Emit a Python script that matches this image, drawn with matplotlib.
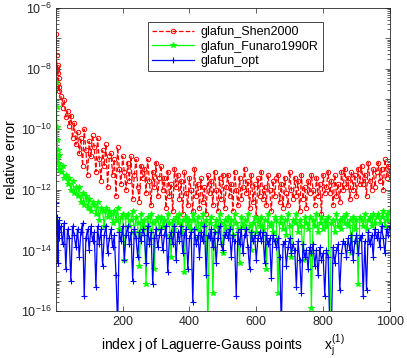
import numpy as np
import matplotlib
matplotlib.use("Agg")
import matplotlib.pyplot as plt
from matplotlib.ticker import FixedLocator, NullFormatter

plt.rcParams["font.family"] = ["Liberation Sans", "DejaVu Sans"]
plt.rcParams["mathtext.fontset"] = "custom"
plt.rcParams["mathtext.rm"] = "Liberation Sans"

# index j of the sampled points (first ten, then every fifth)
idx = list(range(1, 11)) + list(range(15, 1001, 5))

# log10 of relative error
shen_log = [
    -6.85, -7.55, -7.95, -8.05, -7.9, -8.15, -8.5, -8.3, -8.75, -8.6,
    -8.9, -9.3, -9.05, -9.6, -9.4, -9.9, -9.55, -10.3, -9.8, -10.5,
    -10.1, -10.8, -10.3, -11.2, -10.0, -10.7, -11.5, -10.4, -10.9, -10.2,
    -10.6, -11.4, -10.3, -11.0, -11.7, -10.7, -11.2, -10.5, -11.9, -10.9,
    -10.8, -11.5, -11.0, -12.2, -10.6, -11.3, -11.8, -10.9, -11.4, -12.0,
    -11.1, -11.7, -10.9, -12.3, -11.5, -11.0, -11.9, -12.4, -11.2, -11.6,
    -11.3, -12.1, -11.0, -11.7, -12.5, -11.4, -11.9, -11.1, -12.2, -11.6,
    -11.2, -12.0, -11.6, -12.6, -11.4, -12.2, -11.8, -12.7, -11.3, -11.9,
    -11.5, -12.3, -11.7, -12.8, -11.4, -12.1, -12.5, -11.6, -12.0, -12.7,
    -11.3, -12.2, -11.8, -12.6, -11.6, -12.4, -11.9, -12.8, -11.5, -12.1,
    -11.7, -12.5, -11.4, -12.0, -12.7, -11.6, -12.3, -11.5, -12.6, -11.9,
    -11.5, -12.2, -11.8, -12.7, -11.4, -12.0, -12.5, -11.6, -12.3, -11.9,
    -11.3, -12.1, -11.7, -12.6, -11.5, -12.4, -11.8, -12.9, -11.6, -12.2,
    -11.4, -12.3, -11.9, -12.5, -11.5, -12.0, -12.7, -11.7, -12.2, -11.6,
    -11.5, -12.4, -11.8, -12.6, -11.6, -12.1, -12.5, -11.4, -12.0, -12.3,
    -11.6, -12.2, -11.7, -12.7, -11.5, -12.3, -11.9, -12.6, -11.7, -12.1,
    -11.5, -12.0, -12.5, -11.6, -12.2, -11.8, -12.8, -11.5, -12.1, -11.9,
    -11.4, -12.1, -11.7, -12.5, -11.5, -12.2, -11.8, -12.4, -11.4, -12.0,
    -11.3, -11.9, -11.6, -12.3, -11.4, -12.0, -11.5, -12.2, -11.3, -11.8,
    -11.2, -11.8, -11.5, -12.2, -11.1, -11.7, -12.0, -11.3, -11.9, -11.4,
    -11.1, -11.7, -11.3, -12.0, -11.0, -11.6, -11.2, -11.5,
]

funaro_log = [
    -8.45, -9.27, -9.93, -10.36, -10.7, -10.9, -11.1, -10.85, -11.3, -11.15,
    -11.4, -11.2, -11.6, -11.5, -11.8, -11.6, -12.0, -11.7, -12.1, -11.9,
    -12.2, -11.9, -12.4, -12.1, -12.5, -12.2, -12.6, -12.3, -12.7, -12.4,
    -12.5, -12.8, -12.4, -13.0, -12.6, -12.7, -13.2, -12.6, -12.9, -12.7,
    -12.8, -13.1, -12.7, -13.0, -12.6, -13.3, -12.9, -12.8, -14.3, -12.9,
    -12.8, -13.2, -13.0, -12.7, -13.4, -12.9, -13.1, -14.5, -12.8, -13.2,
    -13.0, -15.1, -12.9, -13.3, -12.8, -13.1, -14.6, -13.0, -12.9, -13.3,
    -12.9, -13.2, -13.0, -13.5, -12.8, -13.1, -14.2, -13.0, -13.3, -12.9,
    -13.1, -12.8, -13.4, -13.0, -14.7, -12.9, -13.2, -13.0, -13.3, -12.8,
    -13.0, -13.3, -12.9, -13.6, -13.1, -12.8, -13.2, -13.0, -16.5, -13.1,
    -12.9, -15.4, -13.2, -13.0, -13.4, -12.8, -13.1, -14.1, -13.0, -13.3,
    -12.9, -13.2, -13.0, -13.5, -12.8, -13.1, -13.3, -14.4, -12.9, -13.2,
    -13.0, -13.3, -12.8, -13.2, -14.0, -13.1, -12.9, -13.4, -13.0, -13.2,
    -12.9, -13.3, -13.0, -14.6, -12.8, -13.2, -13.1, -13.4, -12.9, -13.0,
    -15.4, -13.1, -12.9, -13.3, -13.0, -13.5, -12.8, -13.2, -14.2, -13.0,
    -13.1, -12.8, -13.4, -13.0, -13.2, -14.3, -12.9, -13.1, -13.3, -12.9,
    -15.9, -13.0, -13.2, -12.8, -13.4, -13.1, -12.9, -13.3, -13.0, -13.2,
    -12.9, -16.5, -13.1, -13.0, -13.4, -12.8, -13.2, -13.0, -13.3, -12.9,
    -13.1, -12.8, -13.2, -13.0, -14.1, -12.9, -13.3, -13.0, -15.1, -12.9,
    -13.0, -13.2, -12.8, -13.3, -13.0, -12.9, -13.2, -12.8, -13.1, -12.9,
    -12.8, -13.1, -12.9, -12.7, -13.2, -12.8, -13.0, -12.7,
]

opt_log = [
    -12.44, -13.1, -13.5, -12.9, -13.3, -14.4, -13.2, -13.6, -13.0, -13.4,
    -13.2, -13.8, -13.1, -14.6, -13.3, -13.6, -15.0, -13.2, -13.5, -13.9,
    -13.3, -14.2, -13.4, -13.1, -15.5, -13.6, -13.3, -14.0, -13.2, -13.7,
    -13.4, -15.2, -13.2, -13.8, -13.3, -14.5, -13.5, -13.2, -14.1, -13.6,
    -13.3, -13.9, -13.5, -14.8, -16.5, -13.4, -13.7, -13.2, -14.3, -13.5,
    -13.2, -13.8, -13.4, -15.0, -13.3, -13.6, -14.2, -13.4, -13.7, -13.3,
    -13.5, -14.4, -13.2, -13.8, -13.4, -15.1, -13.6, -13.3, -13.9, -13.5,
    -13.3, -14.0, -13.5, -13.2, -14.7, -13.6, -13.4, -13.8, -13.2, -14.3,
    -13.4, -13.7, -13.2, -14.1, -13.5, -13.3, -14.6, -13.6, -13.4, -15.7,
    -13.3, -13.8, -13.5, -14.2, -13.4, -13.7, -13.2, -14.8, -13.5, -13.6,
    -13.3, -13.9, -13.4, -14.4, -13.6, -13.2, -13.8, -14.0, -13.5, -13.4,
    -13.6, -13.3, -14.2, -13.5, -13.7, -15.5, -13.4, -13.8, -13.3, -14.1,
    -13.5, -13.3, -13.9, -14.6, -13.4, -13.7, -13.5, -14.3, -13.6, -13.4,
    -13.7, -13.4, -14.4, -13.5, -13.8, -13.6, -14.9, -13.5, -13.7, -13.9,
    -13.6, -14.2, -16.5, -13.8, -13.7, -14.5, -13.9, -13.6, -14.1, -13.8,
    -14.0, -15.2, -13.7, -14.3, -15.4, -13.8, -14.2, -14.0, -14.6, -13.9,
    -14.1, -13.8, -14.5, -14.0, -14.8, -13.9, -14.3, -14.1, -15.5, -14.0,
    -14.2, -16.5, -16.5, -13.9, -14.4, -14.0, -13.8, -15.3, -14.1, -13.7,
    -13.8, -14.2, -13.6, -14.0, -13.5, -14.3, -13.7, -13.5, -14.1, -13.6,
    -13.5, -15.5, -13.7, -15.3, -13.4, -13.8, -13.5, -14.2, -13.3, -13.6,
    -13.4, -13.9, -13.2, -13.6, -14.1, -13.3, -13.5, -13.2,
]

series_names = ["glafun_Shen2000", "glafun_Funaro1990R", "glafun_opt"]

fig = plt.figure(figsize=(4.07, 3.58), dpi=100)
ax = fig.add_axes([0.138, 0.131, 0.820, 0.847])

ax.semilogy(idx, 10.0 ** np.array(shen_log), color="red", linestyle="--",
            linewidth=0.9, marker="o", markersize=3.2, markerfacecolor="none",
            markeredgewidth=0.7, label=series_names[0])
ax.semilogy(idx, 10.0 ** np.array(funaro_log), color="#00ff00", linestyle="-",
            linewidth=0.9, marker="*", markersize=3.8, markeredgewidth=0.7,
            label=series_names[1])
ax.semilogy(idx, 10.0 ** np.array(opt_log), color="blue", linestyle="-",
            linewidth=0.9, marker="+", markersize=4, markeredgewidth=0.8,
            label=series_names[2])

ax.set_xlim(1, 1000)
ax.set_ylim(1e-16, 1e-6)
ax.set_xticks([200, 400, 600, 800, 1000])

decades = [10.0 ** e for e in range(-16, -5)]
ax.yaxis.set_major_locator(FixedLocator(decades))
ax.set_yticklabels([r"$\mathregular{10^{%d}}$" % e if e % 2 == 0 else ""
                    for e in range(-16, -5)])
minors = [m * 10.0 ** e for e in range(-16, -6) for m in range(2, 10)]
ax.yaxis.set_minor_locator(FixedLocator(minors))
ax.yaxis.set_minor_formatter(NullFormatter())

ax.tick_params(which="both", direction="in", top=True, right=True,
               labelsize=9, colors="#262626")
ax.tick_params(which="major", length=3.5, width=0.5)
ax.tick_params(which="minor", length=2, width=0.5)
for sp in ax.spines.values():
    sp.set_color("#262626")
    sp.set_linewidth(0.6)

ax.set_ylabel("relative error", fontsize=10, labelpad=2)
ax.set_xlabel(r"index j of Laguerre-Gauss points      $\mathregular{x_j^{(1)}}$",
              fontsize=10, labelpad=3)

leg = ax.legend(loc="upper left", bbox_to_anchor=(0.255, 0.975), fontsize=9,
                frameon=True, fancybox=False, framealpha=1, edgecolor="#262626",
                handlelength=3.4, borderpad=0.35, labelspacing=0.2,
                handletextpad=0.5)
leg.get_frame().set_linewidth(0.6)

fig.savefig("out.png", dpi=100)
